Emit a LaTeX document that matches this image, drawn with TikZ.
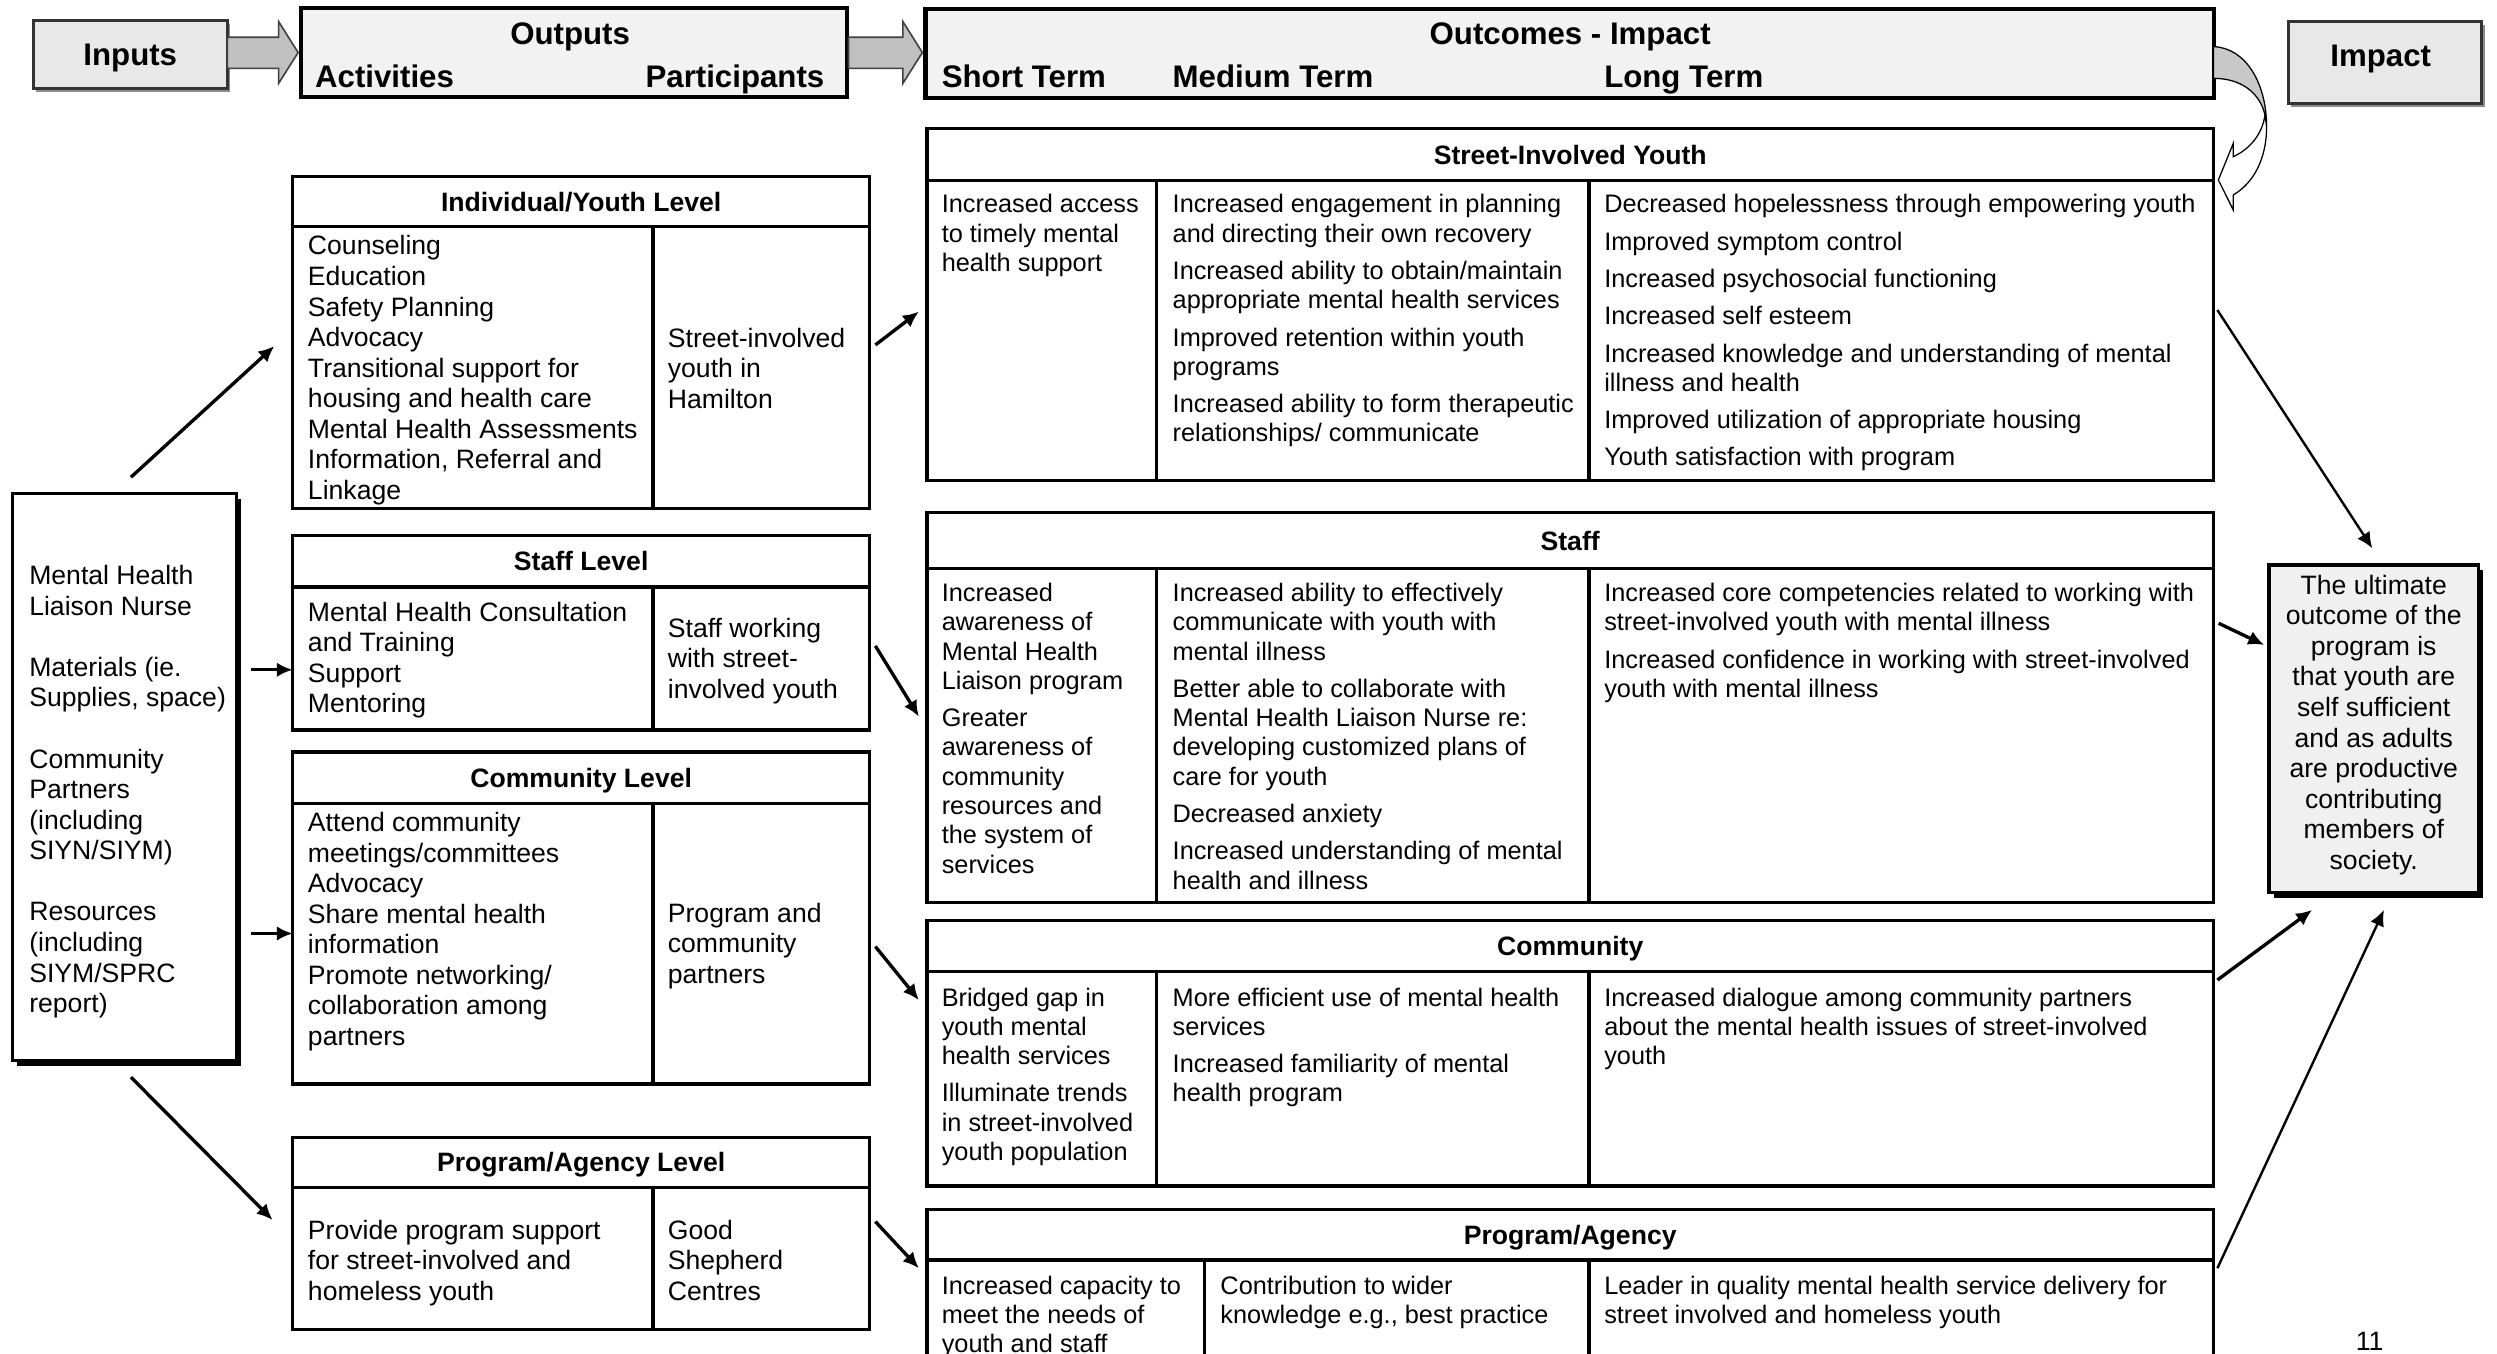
\documentclass[tikz,border=0pt]{standalone}
\usepackage{fontspec}
\setmainfont{Liberation Sans}
\usetikzlibrary{arrows.meta,shadows}
\definecolor{hdfill}{RGB}{232,232,232}
\definecolor{bandfill}{RGB}{242,242,242}
\definecolor{arrowgray}{RGB}{192,192,192}
\definecolor{ribbon}{RGB}{200,200,200}
\definecolor{ultfill}{RGB}{240,240,240}
\newcommand\fBody{\fontsize{8.35pt}{9.6pt}\selectfont}
\newcommand\fOut{\fontsize{7.95pt}{9.2pt}\selectfont}
\newcommand\fTitle{\fontsize{8.35pt}{9.6pt}\selectfont\bfseries}
\newcommand\fHead{\fontsize{9.8pt}{11pt}\selectfont\bfseries}
\begin{document}
\begin{tikzpicture}[x=0.5pt,y=-0.5pt,
  frame/.style={draw, line width=1.1pt, inner sep=0pt, outer sep=0pt, fill=white},
  band/.style={draw, line width=1.3pt, inner sep=0pt, outer sep=0pt, fill=bandfill},
  hdbox/.style={draw=black!80, line width=0.9pt, inner sep=0pt, outer sep=0pt, fill=hdfill, drop shadow={shadow xshift=1pt, shadow yshift=-1pt, fill=black!45, opacity=1}},
  blackshadow/.style={drop shadow={shadow xshift=1.5pt, shadow yshift=-1.6pt, fill=black, opacity=1}},
  div/.style={line width=1.1pt},
  txt/.style={inner sep=0pt, align=left, anchor=north west, font=\fBody, yshift=-0.5pt, execute at begin node=\strut},
  otxt/.style={inner sep=0pt, align=left, anchor=north west, font=\fOut, yshift=-0.5pt, execute at begin node=\strut},
  ttl/.style={inner sep=0pt, font=\fTitle, text height=6pt, text depth=0pt},
  hd/.style={inner sep=0pt, font=\fHead, text height=7pt, text depth=0pt},
  arr/.style={-{Latex[length=5pt,width=4.6pt]}, line width=1.05pt},
  larr/.style={-{Latex[length=5pt,width=4.6pt]}, line width=0.75pt},
  blockarrow/.style={fill=arrowgray, draw=black!75, line width=0.5pt},
]
\useasboundingbox (0,0) rectangle (1568,850.2);
\fill[white] (0,0) rectangle (1568,850.2);

% ---------------- header row
\node[hdbox, hd, minimum width=60.9pt, minimum height=21.25pt] (inh) at (81.8,34.25) {Inputs};
\node[hdbox, minimum width=60.7pt, minimum height=25.65pt] (imh) at (1497.6,39.25) {};
\node[hd] (imhT) at (1495,34.5) {Impact};
\node[band, minimum width=171.3pt, minimum height=28pt] (outh) at (360.4,33) {};
\node[hd] (outT) at (358,21) {Outputs};
\node[hd, anchor=west] (actT) at (197.5,48) {Activities};
\node[hd, anchor=east] (parT) at (518,48) {Participants};
\node[band, minimum width=404.4pt, minimum height=28pt] (och) at (985.6,33.5) {};
\node[hd] (ocT) at (986,21) {Outcomes - Impact};
\node[hd, anchor=west] (stT) at (591,48) {Short Term};
\node[hd, anchor=west] (mtT) at (736,48) {Medium Term};
\node[hd, anchor=west] (ltT) at (1007,48) {Long Term};

\draw[blockarrow] (142.7,23.4) -- (175,23.4) -- (175,13.6) -- (187.2,33) -- (175,52.3) -- (175,42.9) -- (142.7,42.9) -- cycle;
\draw[blockarrow] (532.8,23.4) -- (567,23.4) -- (567,13.6) -- (579.2,33) -- (567,52.3) -- (567,42.9) -- (532.8,42.9) -- cycle;

% curved arrow
\filldraw[fill=ribbon, draw=black, line width=0.4pt] (1390,29.3) .. controls (1410,30) and (1423.3,52) .. (1423.3,79.5) -- (1422.3,72.2) .. controls (1419,58) and (1407,49.2) .. (1390,49.2) -- cycle;
\filldraw[fill=white, draw=black, line width=0.4pt] (1422.3,72.2) .. controls (1420.5,85) and (1412,94) .. (1402.4,98.4) -- (1402.4,90) -- (1393,113) -- (1402.4,131.9) -- (1402.4,122.4) .. controls (1415,115) and (1423.3,100) .. (1423.3,79.5) -- cycle;

% ---------------- inputs
\node[frame, blackshadow, minimum width=70.3pt, minimum height=178pt] (inp) at (78.2,488) {};
\node[txt] (inpT) at (18,353.6) {Mental Health\\Liaison Nurse\\[9.6pt]Materials (ie.\\Supplies, space)\\[9.6pt]Community\\Partners\\(including\\SIYN/SIYM)\\[9.6pt]Resources\\(including\\SIYM/SPRC\\report)};

% ---------------- outputs
\node[frame, minimum width=181.15pt, minimum height=104.15pt] (ind) at (364.95,215.05) {};
\draw[div] (183.8,142.3) -- (546.1,142.3) (410.2,142.3) -- (410.2,319.2);
\node[ttl] (indT) at (364.95,126.6) {Individual/Youth Level};
\node[txt] (indA) at (193,146.6) {Counseling\\Education\\Safety Planning\\Advocacy\\Transitional support for\\housing and health care\\Mental Health Assessments\\Information, Referral and\\Linkage};
\node[txt] (indP) at (419,204.6) {Street-involved\\youth in\\Hamilton};

\node[frame, minimum width=181.15pt, minimum height=61.05pt] (stl) at (364.95,397.25) {};
\draw[div] (183.8,368.5) -- (546.1,368.5) (410.2,368.5) -- (410.2,458.3);
\node[ttl] (stlT) at (364.95,352.4) {Staff Level};
\node[txt] (stlA) at (193,376.6) {Mental Health Consultation\\and Training\\Support\\Mentoring};
\node[txt] (stlP) at (419,386.6) {Staff working\\with street-\\involved youth};

\node[frame, minimum width=181.15pt, minimum height=104.3pt] (cml) at (364.95,576.5) {};
\draw[div] (183.8,504.5) -- (546.1,504.5) (410.2,504.5) -- (410.2,680.8);
\node[ttl] (cmlT) at (364.95,488.3) {Community Level};
\node[txt] (cmlA) at (193,508.6) {Attend community\\meetings/committees\\Advocacy\\Share mental health\\information\\Promote networking/\\collaboration among\\partners};
\node[txt] (cmlP) at (419,565.6) {Program and\\community\\partners};

\node[frame, minimum width=181.15pt, minimum height=60.3pt] (pgl) at (364.95,774.5) {};
\draw[div] (183.8,745.6) -- (546.1,745.6) (410.2,745.6) -- (410.2,834.8);
\node[ttl] (pglT) at (364.95,729.9) {Program/Agency Level};
\node[txt] (pglA) at (193,764.6) {Provide program support\\for street-involved and\\homeless youth};
\node[txt] (pglP) at (419,764.6) {Good\\Shepherd\\Centres};

% ---------------- outcomes
\node[frame, minimum width=404pt, minimum height=110.6pt] (syo) at (986,191.2) {};
\draw[div] (582,113.4) -- (1390,113.4) (726.2,113.4) -- (726.2,301.8) (997.7,113.4) -- (997.7,301.8);
\node[ttl] (syoT) at (986,97.5) {Street-Involved Youth};
\node[otxt] (syoS) at (591,120.8) {Increased access\\to timely mental\\health support};
\node[otxt] (syoM) at (736,120.8) {Increased engagement in planning\\and directing their own recovery\\[2.5pt]Increased ability to obtain/maintain\\appropriate mental health services\\[2.5pt]Improved retention within youth\\programs\\[2.5pt]Increased ability to form therapeutic\\relationships/ communicate};
\node[otxt] (syoL) at (1007,120.8) {Decreased hopelessness through empowering youth\\[2.5pt]Improved symptom control\\[2.5pt]Increased psychosocial functioning\\[2.5pt]Increased self esteem\\[2.5pt]Increased knowledge and understanding of mental\\illness and health\\[2.5pt]Improved utilization of appropriate housing\\[2.5pt]Youth satisfaction with program};

\node[frame, minimum width=404pt, minimum height=122.45pt] (sto) at (986,444.35) {};
\draw[div] (582,356.9) -- (1390,356.9) (726.2,356.9) -- (726.2,566.8) (997.7,356.9) -- (997.7,566.8);
\node[ttl] (stoT) at (986,339.4) {Staff};
\node[otxt] (stoS) at (591,364.8) {Increased\\awareness of\\Mental Health\\Liaison program\\[2.5pt]Greater\\awareness of\\community\\resources and\\the system of\\services};
\node[otxt] (stoM) at (736,364.8) {Increased ability to effectively\\communicate with youth with\\mental illness\\[2.5pt]Better able to collaborate with\\Mental Health Liaison Nurse re:\\developing customized plans of\\care for youth\\[2.5pt]Decreased anxiety\\[2.5pt]Increased understanding of mental\\health and illness};
\node[otxt] (stoL) at (1007,364.8) {Increased core competencies related to working with\\street-involved youth with mental illness\\[2.5pt]Increased confidence in working with street-involved\\youth with mental illness};

\node[frame, minimum width=404pt, minimum height=83.3pt] (cmo) at (986,661.4) {};
\draw[div] (582,610.2) -- (1390,610.2) (726.2,610.2) -- (726.2,744.7) (997.7,610.2) -- (997.7,744.7);
\node[ttl] (cmoT) at (986,594.2) {Community};
\node[otxt] (cmoS) at (591,618.8) {Bridged gap in\\youth mental\\health services\\[2.5pt]Illuminate trends\\in street-involved\\youth population};
\node[otxt] (cmoM) at (736,618.8) {More efficient use of mental health\\services\\[2.5pt]Increased familiarity of mental\\health program};
\node[otxt] (cmoL) at (1007,618.8) {Increased dialogue among community partners\\about the mental health issues of street-involved\\youth};

\node[frame, minimum width=404pt, minimum height=60.3pt] (pgo) at (986,819.7) {};
\draw[div] (582,791.2) -- (1390,791.2) (756.5,791.2) -- (756.5,880) (997.7,791.2) -- (997.7,880);
\node[ttl] (pgoT) at (986,775.3) {Program/Agency};
\node[otxt] (pgoS) at (591,799.8) {Increased capacity to\\meet the needs of\\youth and staff};
\node[otxt] (pgoM) at (766,799.8) {Contribution to wider\\knowledge e.g., best practice};
\node[otxt] (pgoL) at (1007,799.8) {Leader in quality mental health service delivery for\\street involved and homeless youth};

% ---------------- ultimate outcome
\node[frame, fill=ultfill, blackshadow, minimum width=65.9pt, minimum height=102.85pt] (ult) at (1490.6,457.65) {};
\node[txt, align=center, anchor=north] (ultT) at (1490.6,359.6) {The ultimate\\outcome of the\\program is\\that youth are\\self sufficient\\and as adults\\are productive\\contributing\\members of\\society.};

\node[inner sep=0pt, font=\fBody] (pnum) at (1488,842) {11};

% ---------------- connectors
\draw[arr] ([shift={(4,-10.3)}]inp.north) -- ([shift={(-11.5,2.25)}]ind.west);
\draw[arr] ([shift={(9,-67.4)}]inp.east) -- ([shift={(0,23.35)}]stl.west);
\draw[arr] ([shift={(9,98.2)}]inp.east) -- ([shift={(0,9.7)}]cml.west);
\draw[arr] ([shift={(4,10.4)}]inp.south) -- ([shift={(-12.6,-8.4)}]pgl.west);
\draw[arr] ([shift={(3.6,1.55)}]ind.east) -- ([shift={(-5,4.5)}]syo.west);
\draw[arr] ([shift={(3.6,8.35)}]stl.east) -- ([shift={(-5,5.65)}]sto.west);
\draw[arr] ([shift={(3.6,17.9)}]cml.east) -- ([shift={(-5,-33.4)}]cmo.west);
\draw[arr] ([shift={(3.6,-7.4)}]pgl.east) -- ([shift={(-5,-23.3)}]pgo.west);
\draw[larr] ([shift={(2.4,3.5)}]syo.east) -- ([shift={(-0.9,-10.5)}]ult.north);
\draw[arr] ([shift={(3.2,-52.95)}]sto.east) -- ([shift={(-2.9,-52.65)}]ult.west);
\draw[arr] ([shift={(2.4,-46)}]cmo.east) -- ([shift={(-38.7,10.9)}]ult.south);
\draw[larr] ([shift={(2.4,-23.3)}]pgo.east) -- ([shift={(6.4,10.9)}]ult.south);
\end{tikzpicture}
\end{document}
